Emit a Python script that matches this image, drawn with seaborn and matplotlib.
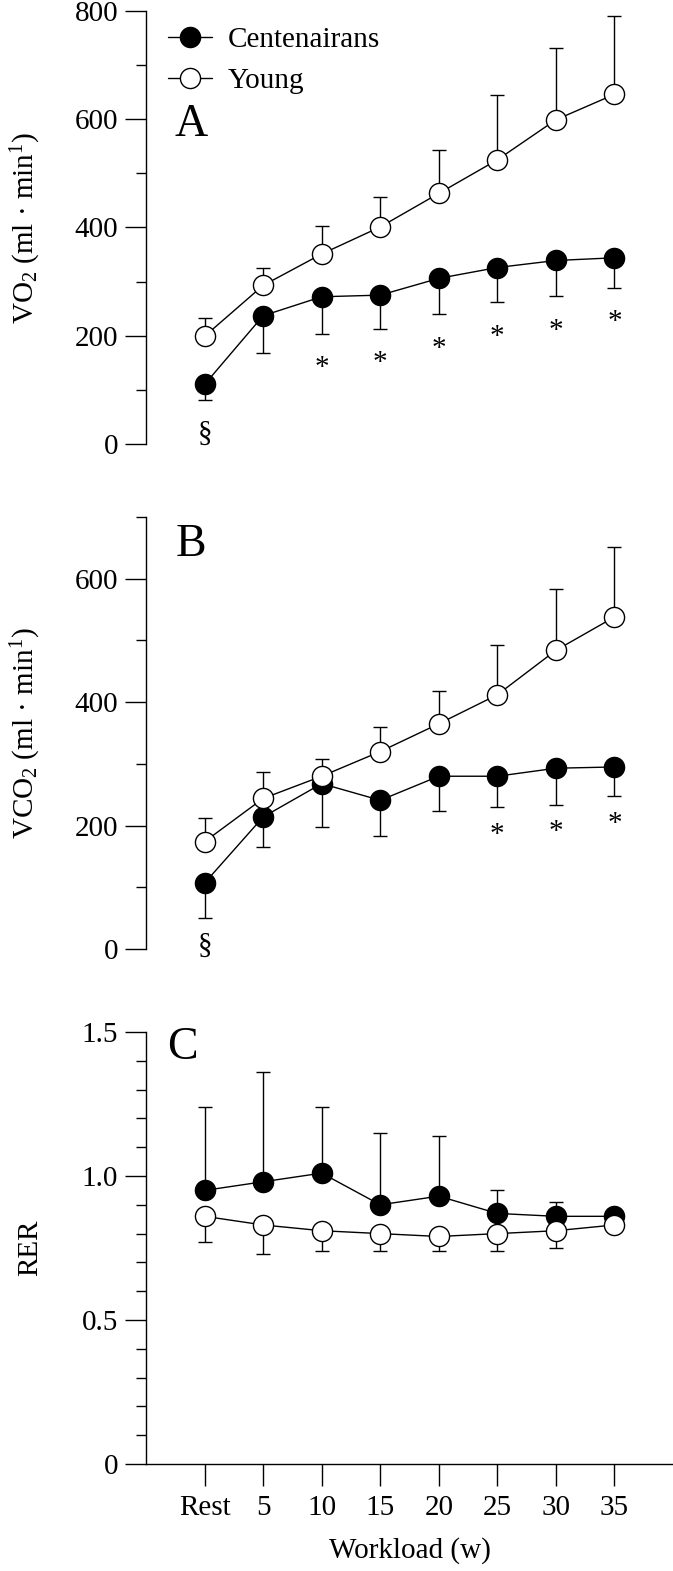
import numpy as np
import matplotlib.pyplot as plt
import matplotlib.ticker as mticker
import seaborn as sns

# Workload stages (x axis)
stages = ['Rest', '5', '10', '15', '20', '25', '30', '35']

# Panel A - VO2 (ml/min), mean and one-sided SD
vo2_cent = [110, 237, 272, 275, 306, 326, 339, 344]
vo2_cent_sd = [28, 68, 68, 62, 66, 64, 66, 55]
vo2_young = [199, 293, 351, 401, 463, 525, 599, 646]
vo2_young_sd = [34, 33, 51, 56, 80, 119, 132, 144]
vo2_sig = ['§', '', '*', '*', '*', '*', '*', '*']

# Panel B - VCO2 (ml/min)
vco2_cent = [107, 214, 268, 241, 280, 280, 293, 295]
vco2_cent_sd = [57, 49, 70, 58, 56, 50, 59, 47]
vco2_young = [174, 244, 280, 320, 365, 412, 484, 538]
vco2_young_sd = [38, 43, 28, 40, 53, 80, 100, 114]
vco2_sig = ['§', '', '', '', '', '*', '*', '*']

# Panel C - RER
rer_cent = [0.95, 0.98, 1.01, 0.90, 0.93, 0.87, 0.86, 0.86]
rer_cent_sd = [0.29, 0.38, 0.23, 0.25, 0.21, 0.08, 0.05, 0.01]
rer_young = [0.86, 0.83, 0.81, 0.80, 0.79, 0.80, 0.81, 0.83]
rer_young_sd = [0.09, 0.10, 0.07, 0.06, 0.05, 0.06, 0.06, 0.02]

sns.set_style('ticks')
plt.rcParams['font.family'] = ['Liberation Serif', 'DejaVu Serif']
plt.rcParams['mathtext.fontset'] = 'custom'
plt.rcParams['mathtext.rm'] = 'Liberation Serif'
plt.rcParams['mathtext.it'] = 'Liberation Serif:italic'
for k in ['text.color', 'axes.labelcolor', 'xtick.color', 'ytick.color', 'axes.edgecolor']:
    plt.rcParams[k] = 'black'

FS = 21
LETTER_FS = 33
x = np.arange(len(stages))

fig = plt.figure(figsize=(6.73, 15.71), dpi=100)
axA = fig.add_axes([0.217, 0.7174, 0.783, 0.2756])
axB = fig.add_axes([0.217, 0.3959, 0.783, 0.2750])
axC = fig.add_axes([0.217, 0.0681, 0.783, 0.2750])


def draw_panel(ax, cent, cent_sd, young, young_sd, cent_down):
    zero = np.zeros(len(x))
    if cent_down:
        err_c, err_y = [cent_sd, zero], [zero, young_sd]
    else:
        err_c, err_y = [zero, cent_sd], [young_sd, zero]
    ax.errorbar(x, cent, yerr=err_c, fmt='none', ecolor='black', elinewidth=1,
                capsize=5, capthick=1, zorder=1, clip_on=False)
    ax.errorbar(x, young, yerr=err_y, fmt='none', ecolor='black', elinewidth=1,
                capsize=5, capthick=1, zorder=1, clip_on=False)
    sns.lineplot(x=x, y=cent, ax=ax, color='black', lw=1, marker='o', markersize=14.5,
                 markerfacecolor='black', markeredgecolor='black', markeredgewidth=1,
                 label='Centenairans', zorder=2, clip_on=False)
    sns.lineplot(x=x, y=young, ax=ax, color='black', lw=1, marker='o', markersize=14.5,
                 markerfacecolor='white', markeredgecolor='black', markeredgewidth=1,
                 label='Young', zorder=3, clip_on=False)
    if ax.get_legend() is not None:
        ax.get_legend().remove()

    ax.set_xlim(-1, 8)
    sns.despine(ax=ax)
    ax.tick_params(axis='y', which='major', length=15, width=1, pad=5, labelsize=FS)
    ax.tick_params(axis='y', which='minor', length=7, width=1)
    for s in ['left', 'bottom']:
        ax.spines[s].set_linewidth(1)
    ax.yaxis.set_label_coords(-0.195, 0.5)


def add_sig(ax, means, sds, sig, offset):
    for i, s in enumerate(sig):
        if s:
            ax.annotate(s, xy=(i, means[i] - sds[i]), xytext=(0, offset),
                        textcoords='offset points', ha='center', va='center',
                        fontsize=FS, annotation_clip=False)


# Panel A
draw_panel(axA, vo2_cent, vo2_cent_sd, vo2_young, vo2_young_sd, True)
axA.set_ylim(0, 800)
axA.yaxis.set_major_locator(mticker.MultipleLocator(200))
axA.yaxis.set_minor_locator(mticker.MultipleLocator(100))
axA.spines['bottom'].set_visible(False)
axA.tick_params(axis='x', bottom=False, labelbottom=False)
axA.set_ylabel('VO$_2$ (ml · min$^1$)', fontsize=FS)
add_sig(axA, vo2_cent, vo2_cent_sd, vo2_sig, -25)
axA.text(0.085, 0.737, 'A', transform=axA.transAxes, fontsize=LETTER_FS, ha='center', va='center')
axA.legend(loc='upper left', bbox_to_anchor=(0.02, 0.99), frameon=False, fontsize=FS,
           handlelength=1.5, handletextpad=0.55, labelspacing=0.5, borderaxespad=0)

# Panel B
draw_panel(axB, vco2_cent, vco2_cent_sd, vco2_young, vco2_young_sd, True)
axB.set_ylim(0, 700)
axB.yaxis.set_major_locator(mticker.MultipleLocator(200))
axB.yaxis.set_minor_locator(mticker.MultipleLocator(100))
axB.spines['bottom'].set_visible(False)
axB.tick_params(axis='x', bottom=False, labelbottom=False)
axB.set_ylabel('VCO$_2$ (ml · min$^1$)', fontsize=FS)
add_sig(axB, vco2_cent, vco2_cent_sd, vco2_sig, -20)
axB.text(0.085, 0.935, 'B', transform=axB.transAxes, fontsize=LETTER_FS, ha='center', va='center')

# Panel C
draw_panel(axC, rer_cent, rer_cent_sd, rer_young, rer_young_sd, False)
axC.set_ylim(0, 1.5)
axC.yaxis.set_major_locator(mticker.FixedLocator([0, 0.5, 1.0, 1.5]))
axC.yaxis.set_major_formatter(mticker.FixedFormatter(['0', '0.5', '1.0', '1.5']))
axC.yaxis.set_minor_locator(mticker.MultipleLocator(0.1))
axC.set_xticks(x)
axC.set_xticklabels(stages)
axC.tick_params(axis='x', which='major', length=16, width=1, pad=6, labelsize=FS)
axC.set_ylabel('RER', fontsize=FS)
axC.set_xlabel('Workload (w)', fontsize=FS, labelpad=12)
axC.text(0.07, 0.963, 'C', transform=axC.transAxes, fontsize=LETTER_FS, ha='center', va='center')

fig.savefig('out.png', dpi=100)
